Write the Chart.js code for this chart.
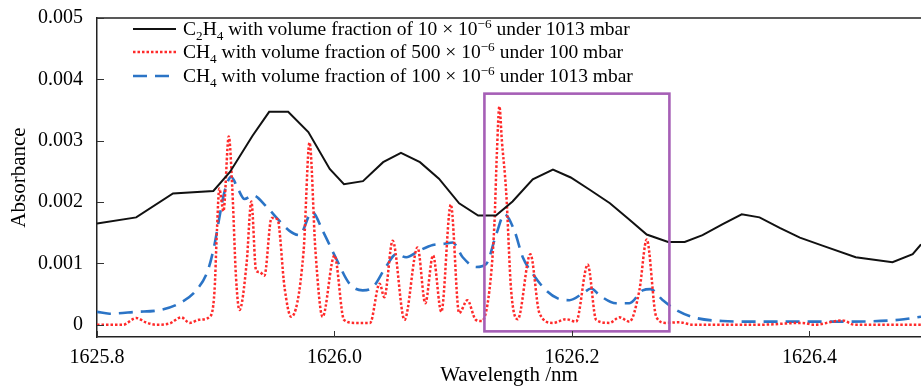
<!DOCTYPE html>
<html>
<head>
<meta charset="utf-8">
<title>Absorbance spectra near 1626 nm</title>
<script src="https://cdn.jsdelivr.net/npm/chart.js@4.4.1/dist/chart.umd.min.js"></script>
<style>
  html, body { margin: 0; padding: 0; background: #fff; }
  #wrap { position: relative; width: 921px; height: 392px; }
  #legend { position: absolute; left: 133px; top: 17px; font: 19.5px 'Liberation Serif', serif; color: #000; }
  #legend .row { height: 23.5px; display: flex; align-items: center; white-space: nowrap; }
  #legend svg { margin-right: 7px; flex: none; }
  #legend sub, #legend sup { font-size: 0.68em; line-height: 0; }
</style>
</head>
<body>
<div id="wrap">
  <canvas id="chart" width="921" height="392"></canvas>
  <div id="legend"></div>
</div>
<script>
// C2H4, 10 ppm, 1013 mbar
const c2h4Wavelength = [
  1625.800, 1625.833, 1625.864, 1625.898, 1625.912, 1625.931, 1625.945, 1625.961, 1625.978, 1625.996,
  1626.008, 1626.024, 1626.041, 1626.056, 1626.072, 1626.088, 1626.105, 1626.121, 1626.136, 1626.150,
  1626.167, 1626.184, 1626.199, 1626.215, 1626.232, 1626.248, 1626.263, 1626.281, 1626.295, 1626.310,
  1626.327, 1626.343, 1626.358, 1626.375, 1626.392, 1626.411, 1626.439, 1626.470, 1626.487, 1626.494
]
const c2h4Absorbance = [
  0.00165, 0.00175, 0.00214, 0.00218, 0.00249, 0.00308, 0.00347, 0.00347, 0.00314, 0.00254,
  0.00229, 0.00234, 0.00265, 0.00280, 0.00265, 0.00238, 0.00198, 0.00178, 0.00178, 0.00201,
  0.00237, 0.00253, 0.00240, 0.00220, 0.00198, 0.00172, 0.00147, 0.00135, 0.00135, 0.00146,
  0.00164, 0.00180, 0.00175, 0.00158, 0.00142, 0.00129, 0.00110, 0.00102, 0.00115, 0.00131
]

// CH4, 500 ppm, 100 mbar
const ch4LowWavelength = [
  1625.800, 1625.822, 1625.833, 1625.841, 1625.850, 1625.861, 1625.871, 1625.878, 1625.886, 1625.895,
  1625.899, 1625.901, 1625.903, 1625.9065, 1625.911, 1625.914, 1625.917, 1625.920, 1625.926, 1625.930,
  1625.934, 1625.937, 1625.941, 1625.947, 1625.952, 1625.958, 1625.9635, 1625.974, 1625.979, 1625.984,
  1625.990, 1626.000, 1626.008, 1626.017, 1626.030, 1626.038, 1626.042, 1626.049, 1626.059, 1626.070,
  1626.0765, 1626.083, 1626.090, 1626.098, 1626.105, 1626.112, 1626.119, 1626.124, 1626.1305, 1626.1347,
  1626.1368, 1626.1389, 1626.141, 1626.1446, 1626.1488, 1626.1544, 1626.165, 1626.1726, 1626.184, 1626.195,
  1626.2035, 1626.2133, 1626.2204, 1626.2316, 1626.240, 1626.2484, 1626.2568, 1626.263, 1626.271, 1626.279,
  1626.2905, 1626.302, 1626.358, 1626.394, 1626.404, 1626.428, 1626.438, 1626.494
]
const ch4LowAbsorbance = [
  0, 0, 0.00011, 0.00004, 0, 0.00002, 0.00012, 0.00003, 0.00008, 0.00013,
  0.00056, 0.00153, 0.00222, 0.00185, 0.00307, 0.00220, 0.00080, 0.00024, 0.00100, 0.00201,
  0.00088, 0.00086, 0.00080, 0.00174, 0.00172, 0.00060, 0.00013, 0.00120, 0.00297, 0.00120,
  0.00013, 0.00113, 0.00008, 0.00003, 0.00003, 0.00067, 0.00045, 0.00137, 0.00008, 0.00126,
  0.00035, 0.00113, 0.00021, 0.00196, 0.00019, 0.00040, 0.00008, 0.00006, 0.00056, 0.00164,
  0.00280, 0.00356, 0.00300, 0.00217, 0.00056, 0.00009, 0.00115, 0.00019, 0.00003, 0.00009,
  0.00005, 0.00098, 0.00008, 0.00003, 0.00012, 0.00005, 0.00056, 0.00139, 0.00013, 0.00003,
  0.00004, 0, 0, 0.00003, 0, 0.00007, 0, 0
]

// CH4, 100 ppm, 1013 mbar
const ch4HighWavelength = [
  1625.800, 1625.8105, 1625.833, 1625.853, 1625.8695, 1625.8835, 1625.8933, 1625.899, 1625.903, 1625.9074,
  1625.913, 1625.9186, 1625.9242, 1625.9312, 1625.9425, 1625.9523, 1625.9621, 1625.9705, 1625.9812, 1625.9901,
  1626.0014, 1626.0126, 1626.0238, 1626.0323, 1626.0435, 1626.052, 1626.0604, 1626.0716, 1626.0828, 1626.0926,
  1626.0996, 1626.108, 1626.1193, 1626.1278, 1626.1362, 1626.1432, 1626.1516, 1626.1586, 1626.167, 1626.1783,
  1626.188, 1626.1979, 1626.2091, 1626.2162, 1626.2232, 1626.2372, 1626.2484, 1626.2596, 1626.2661, 1626.2765,
  1626.2878, 1626.3046, 1626.327, 1626.3495, 1626.3775, 1626.4253, 1626.4758, 1626.494
]
const ch4HighAbsorbance = [
  0.00021, 0.00018, 0.00021, 0.00024, 0.00035, 0.00056, 0.00088, 0.00131, 0.00174, 0.00217,
  0.00241, 0.00222, 0.00205, 0.00211, 0.00193, 0.00172, 0.00153, 0.00146, 0.00184, 0.00153,
  0.00108, 0.00067, 0.00056, 0.00061, 0.00095, 0.00115, 0.00110, 0.00121, 0.00130, 0.00132,
  0.00134, 0.00110, 0.00094, 0.00099, 0.00147, 0.00180, 0.00153, 0.00110, 0.00083, 0.00056,
  0.00043, 0.00040, 0.00051, 0.00059, 0.00048, 0.00035, 0.00035, 0.00056, 0.00058, 0.00040,
  0.00024, 0.00011, 0.00006, 0.00005, 0.00005, 0.00005, 0.00008, 0.00013
]

const seriesLabels = [
  'C<sub>2</sub>H<sub>4</sub> with volume fraction of 10 × 10<sup>−6</sup> under 1013 mbar',
  'CH<sub>4</sub> with volume fraction of 500 × 10<sup>−6</sup> under 100 mbar',
  'CH<sub>4</sub> with volume fraction of 100 × 10<sup>−6</sup> under 1013 mbar'
]

const xTicks = [1625.8, 1626.0, 1626.2, 1626.4]
const yTicks = [0, 0.001, 0.002, 0.003, 0.004, 0.005]

// wavelength / absorbance extent of the highlighted region
const highlightWavelength = [1626.1263, 1626.2821]
const highlightAbsorbance = [-0.000108, 0.003767]

const toPoints = (xs, ys) => xs.map((x, i) => ({ x, y: ys[i] }))

const serif = "'Liberation Serif', 'Times New Roman', serif"

// frame top edge, inward tick marks and the highlight box
const frameAndTicks = {
  id: 'frameAndTicks',
  afterDraw(chart) {
    const { ctx, chartArea: area, scales: { x, y } } = chart
    ctx.save()
    ctx.strokeStyle = '#222'
    ctx.lineWidth = 1.5
    ctx.beginPath()
    ctx.moveTo(area.left, area.top)
    ctx.lineTo(area.right, area.top)
    ctx.stroke()

    ctx.lineWidth = 1
    ctx.strokeStyle = '#333'
    xTicks.forEach(v => {
      const px = Math.round(x.getPixelForValue(v)) + 0.5
      ctx.beginPath()
      ctx.moveTo(px, area.bottom)
      ctx.lineTo(px, area.bottom - 6)
      ctx.stroke()
    })
    yTicks.forEach(v => {
      const py = Math.round(y.getPixelForValue(v)) + 0.5
      ctx.beginPath()
      ctx.moveTo(area.left, py)
      ctx.lineTo(area.left + 7, py)
      ctx.stroke()
    })
    ctx.restore()
  },
  afterDatasetsDraw(chart) {
    const { ctx, scales: { x, y } } = chart
    const left = x.getPixelForValue(highlightWavelength[0])
    const right = x.getPixelForValue(highlightWavelength[1])
    const top = y.getPixelForValue(highlightAbsorbance[1])
    const bottom = y.getPixelForValue(highlightAbsorbance[0])
    ctx.save()
    ctx.strokeStyle = '#a65fb6'
    ctx.lineWidth = 2.6
    ctx.strokeRect(left, top, right - left, bottom - top)
    ctx.restore()
  }
}

// legend as html so the sub/superscripts render properly
const htmlLegend = {
  id: 'htmlLegend',
  afterUpdate(chart) {
    const box = document.getElementById('legend')
    box.innerHTML = ''
    chart.data.datasets.forEach((ds, i) => {
      const row = document.createElement('div')
      row.className = 'row'
      const dash = (ds.borderDash || []).join(' ')
      row.innerHTML =
        `<svg width="43" height="10"><line x1="0" y1="5" x2="43" y2="5" stroke="${ds.borderColor}"` +
        ` stroke-width="${ds.borderWidth}" stroke-dasharray="${dash}"/></svg>` +
        `<span>${seriesLabels[i]}</span>`
      box.appendChild(row)
    })
  }
}

new Chart(document.getElementById('chart').getContext('2d'), {
  type: 'line',
  data: {
    datasets: [
      {
        label: 'C2H4 10 ppm 1013 mbar',
        data: toPoints(c2h4Wavelength, c2h4Absorbance),
        borderColor: '#111111',
        borderWidth: 2,
        tension: 0
      },
      {
        label: 'CH4 500 ppm 100 mbar',
        data: toPoints(ch4LowWavelength, ch4LowAbsorbance),
        borderColor: '#ff2a2a',
        borderWidth: 2.5,
        borderDash: [2.5, 2],
        cubicInterpolationMode: 'monotone'
      },
      {
        label: 'CH4 100 ppm 1013 mbar',
        data: toPoints(ch4HighWavelength, ch4HighAbsorbance),
        borderColor: '#2b74c6',
        borderWidth: 2.6,
        borderDash: [14, 8],
        cubicInterpolationMode: 'monotone'
      }
    ]
  },
  options: {
    responsive: false,
    animation: false,
    devicePixelRatio: 1,
    layout: { padding: { top: 14, right: 0, left: 0, bottom: 0 } },
    elements: { point: { radius: 0 } },
    plugins: {
      legend: { display: false },
      tooltip: { enabled: false }
    },
    scales: {
      x: {
        type: 'linear',
        min: 1625.8,
        max: 1626.494,
        afterBuildTicks: scale => { scale.ticks = xTicks.map(value => ({ value })) },
        afterFit: scale => { scale.height = 55 },
        grid: { display: false },
        border: { display: true, color: '#222', width: 1.5 },
        ticks: {
          color: '#000',
          padding: 1,
          maxRotation: 0,
          font: { family: serif, size: 20 },
          callback: value => value.toFixed(1)
        },
        title: {
          display: true,
          text: 'Wavelength /nm',
          color: '#000',
          font: { family: serif, size: 21 },
          padding: { top: 0, bottom: 4 }
        }
      },
      y: {
        min: -0.0002,
        max: 0.005,
        afterBuildTicks: scale => { scale.ticks = yTicks.map(value => ({ value })) },
        afterFit: scale => { scale.width = 97 },
        grid: { display: false },
        border: { display: true, color: '#222', width: 1.5 },
        ticks: {
          color: '#000',
          padding: 6,
          font: { family: serif, size: 20 },
          callback: value => value === 0 ? '0' : value.toFixed(3)
        },
        title: {
          display: true,
          text: 'Absorbance',
          color: '#000',
          font: { family: serif, size: 21 },
          padding: { top: 7, bottom: 0 }
        }
      }
    }
  },
  plugins: [frameAndTicks, htmlLegend]
})
</script>
</body>
</html>
